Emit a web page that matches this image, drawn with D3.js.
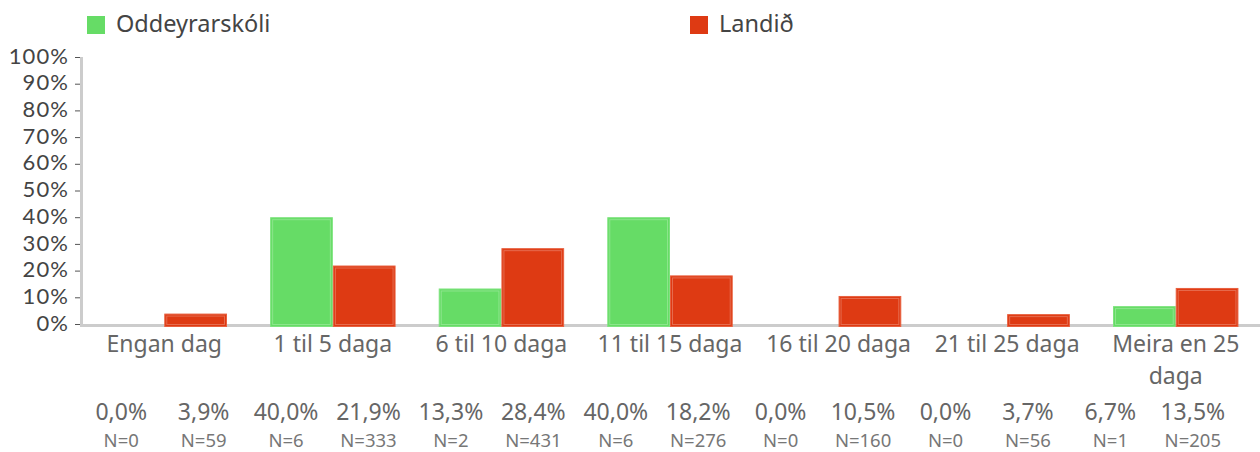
<!DOCTYPE html>
<html>
<head>
<meta charset="utf-8">
<script src="https://cdn.jsdelivr.net/npm/d3@7"></script>
<style>
  html, body { margin: 0; padding: 0; background: #fff; }
  svg { display: block; font-family: "Noto Sans", "Open Sans", sans-serif; }
</style>
</head>
<body>
<svg id="chart" width="1260" height="452"></svg>
<script>
// Number of days, share of answers per group
const categories = ["Engan dag", "1 til 5 daga", "6 til 10 daga", "11 til 15 daga", "16 til 20 daga", "21 til 25 daga", "Meira en 25 daga"];
const seriesNames = ["Oddeyrarskóli", "Landið"];
const schoolValues = [0.0, 40.0, 13.3, 40.0, 0.0, 0.0, 6.7];
const countryValues = [3.9, 21.9, 28.4, 18.2, 10.5, 3.7, 13.5];
const schoolN = [0, 6, 2, 6, 0, 0, 1];
const countryN = [59, 333, 431, 276, 160, 56, 205];
const yTicks = [0, 10, 20, 30, 40, 50, 60, 70, 80, 90, 100];
const colors = ["#66dc66", "#de3a13"];
const strokeColors = ["#7fe37f", "#e8603f"];

const svg = d3.select("#chart");
const plot = { left: 80, right: 1260, top: 57, bottom: 324 };

const isLocale = d3.formatLocale({ decimal: ",", thousands: ".", grouping: [3], currency: ["", " kr."] });
const pctFmt = v => isLocale.format(".1f")(v) + "%";

const x = d3.scaleBand().domain(categories).range([plot.left, plot.right]).padding(0);
const xSub = d3.scaleBand().domain(seriesNames)
  .range([x.bandwidth() * 0.128, x.bandwidth() * 0.872]).padding(0);
const y = d3.scaleLinear().domain([0, 100]).range([plot.bottom, plot.top]);

// Legend
const legendX = d3.scaleBand().domain(seriesNames).range([87, 1293]);
const legend = svg.append("g");
seriesNames.forEach((name, i) => {
  const g = legend.append("g").attr("transform", `translate(${legendX(name)},0)`);
  g.append("rect").attr("x", 0).attr("y", 16).attr("width", 18).attr("height", 18).attr("fill", colors[i]);
  g.append("text").attr("x", 29).attr("y", 32).attr("font-size", 23.5).attr("fill", "#444").text(name);
});

// Y axis
const yAxis = d3.axisLeft(y).tickValues(yTicks).tickFormat(d => d + "%").tickSize(5).tickPadding(6);
const yG = svg.append("g").attr("transform", `translate(${plot.left},0)`).call(yAxis);
yG.select(".domain").remove();
yG.selectAll(".tick line").attr("stroke", "#555");
yG.selectAll(".tick text")
  .attr("font-size", 22).attr("fill", "#444")
  .attr("font-family", "Lato, sans-serif")
  .attr("letter-spacing", 1.1)
  .attr("dy", "0.28em");

// Axis lines
svg.append("line").attr("x1", plot.left + 1.5).attr("x2", plot.left + 1.5)
  .attr("y1", plot.top).attr("y2", plot.bottom + 3).attr("stroke", "#cccccc").attr("stroke-width", 3);
svg.append("line").attr("x1", plot.left).attr("x2", plot.right)
  .attr("y1", plot.bottom + 1.5).attr("y2", plot.bottom + 1.5).attr("stroke", "#cccccc").attr("stroke-width", 3);

// Bars
const rows = categories.map((c, i) => ({ cat: c, vals: [schoolValues[i], countryValues[i]] }));
const groups = svg.append("g").selectAll("g").data(rows).join("g")
  .attr("transform", d => `translate(${x(d.cat)},0)`);
groups.each(function(d) {
  const g = d3.select(this);
  d.vals.forEach((v, si) => {
    if (v <= 0) return;
    const bx = xSub(seriesNames[si]);
    const bw = xSub.bandwidth();
    const top = y(v);
    const h = y(0) - top + 3;
    g.append("rect").attr("x", bx + 0.5).attr("y", top + 0.5).attr("width", bw - 1).attr("height", h - 1)
      .attr("fill", colors[si]).attr("stroke", strokeColors[si]).attr("stroke-width", 1);
    if (h > 6) {
      g.append("rect").attr("x", bx + 2.5).attr("y", top + 2.5).attr("width", bw - 5).attr("height", h - 5)
        .attr("fill", "none").attr("stroke", "#ffffff").attr("stroke-opacity", 0.25).attr("stroke-width", 1);
    }
  });
});

// Category labels (wrapped to the band width)
function wrap(textSel, width) {
  textSel.each(function() {
    const text = d3.select(this);
    const words = text.text().split(/\s+/);
    const xx = text.attr("x");
    text.text(null);
    let line = [];
    let tspan = text.append("tspan").attr("x", xx).attr("dy", 0);
    words.forEach(w => {
      line.push(w);
      tspan.text(line.join(" "));
      if (tspan.node().getComputedTextLength() > width && line.length > 1) {
        line.pop();
        tspan.text(line.join(" "));
        line = [w];
        tspan = text.append("tspan").attr("x", xx).attr("dy", "1.38em").text(w);
      }
    });
  });
}
svg.append("g").selectAll("text").data(categories).join("text")
  .attr("x", d => x(d) + x.bandwidth() / 2)
  .attr("y", 352)
  .attr("text-anchor", "middle")
  .attr("font-size", 23)
  .attr("fill", "#666")
  .text(d => d)
  .call(wrap, x.bandwidth() - 6);

// Value table below the chart
const cells = [];
categories.forEach((c, i) => {
  cells.push({ key: c + "|0", pct: schoolValues[i], n: schoolN[i] });
  cells.push({ key: c + "|1", pct: countryValues[i], n: countryN[i] });
});
const xCell = d3.scaleBand().domain(cells.map(d => d.key)).range([80, 1234]);
const table = svg.append("g");
table.selectAll("text.pct").data(cells).join("text").attr("class", "pct")
  .attr("x", d => xCell(d.key) + xCell.bandwidth() / 2)
  .attr("y", 420).attr("text-anchor", "middle")
  .attr("font-size", 23).attr("fill", "#666")
  .text(d => pctFmt(d.pct));
table.selectAll("text.n").data(cells).join("text").attr("class", "n")
  .attr("x", d => xCell(d.key) + xCell.bandwidth() / 2)
  .attr("y", 446.5).attr("text-anchor", "middle")
  .attr("font-size", 18.5).attr("fill", "#777")
  .text(d => "N=" + d.n);
</script>
</body>
</html>
